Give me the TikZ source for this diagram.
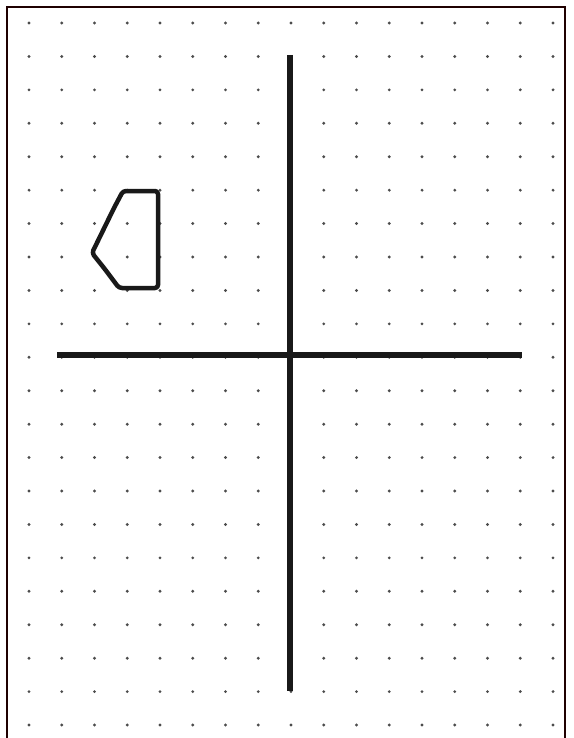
\documentclass[tikz,border=0pt]{standalone}
\begin{document}
\begin{tikzpicture}[x=1pt,y=-1pt,
  frame/.style={draw=black!80!red!60!black,line width=2.5pt},
  axis/.style={draw=black!90,line width=6.5pt},
  shapeline/.style={draw=black!90,line width=4.5pt,line join=round,rounded corners=3pt},
  griddot/.style={fill=black!70}]
\useasboundingbox (0,0) rectangle (573,738);
\fill[white] (0,0) rectangle (573,738);
% dot grid
\foreach \i in {0,...,16}{
  \foreach \j in {0,...,21}{
    \fill[griddot] ({29+32.75*\i},{23+33.43*\j}) circle (1.6);
  }
}
% frame (bottom open)
\coordinate (fbl) at (7,738);
\coordinate (ftl) at (7,7);
\coordinate (ftr) at (565,7);
\coordinate (fbr) at (565,738);
\draw[frame] (fbl) -- (ftl) -- (ftr) -- (fbr);
% axes
\coordinate (vt) at (290,55);
\coordinate (vb) at (290,691);
\coordinate (hl) at (57,355);
\coordinate (hr) at (522,355);
\draw[axis] (vt) -- (vb);
\draw[axis] (hl) -- (hr);
% shape
\coordinate (s1) at (123,191);
\coordinate (s2) at (158,191);
\coordinate (s3) at (158,288);
\coordinate (s4) at (119,288);
\coordinate (s5) at (104,268);
\coordinate (s6) at (92,253);
\coordinate (s7) at (114,208);
\draw[shapeline] (s1) -- (s2) -- (s3) -- (s4) -- (s5) -- (s6) -- (s7) -- cycle;
\end{tikzpicture}
\end{document}
